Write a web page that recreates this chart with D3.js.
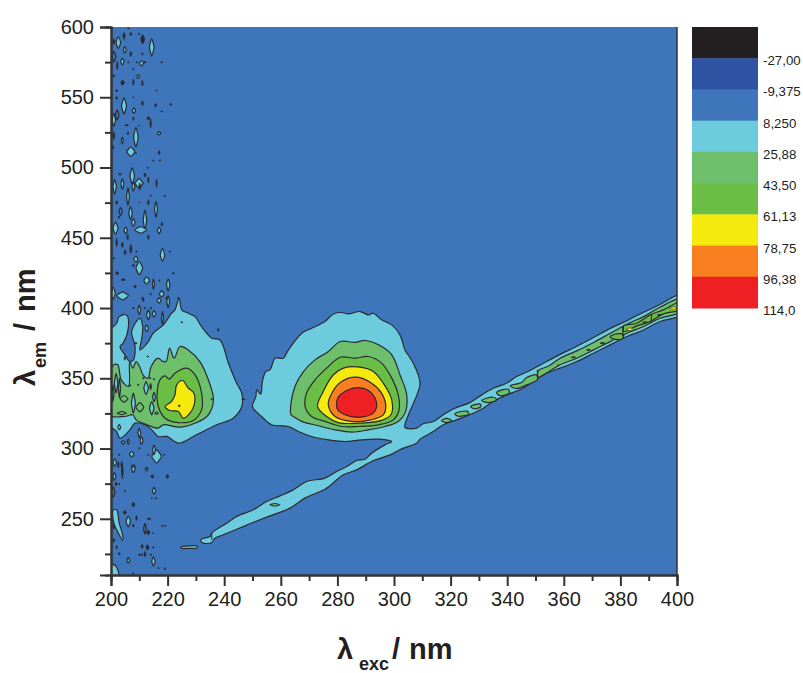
<!DOCTYPE html>
<html>
<head>
<meta charset="utf-8">
<script src="https://cdn.jsdelivr.net/npm/d3@7"></script>
<style>
  html, body { margin: 0; padding: 0; background: #fff; }
  svg { display: block; }
  text { font-family: "Liberation Sans", Arial, sans-serif; fill: #231f20; }
</style>
</head>
<body>
<script>
"use strict";
// every outline below is [lambda exc, lambda em] in nm
const xTicks = [200, 220, 240, 260, 280, 300, 320, 340, 360, 380, 400]
const xMinorTicks = [210, 230, 250, 270, 290, 310, 330, 350, 370, 390]
const yTicks = [250, 300, 350, 400, 450, 500, 550, 600]
const yMinorTicks = [225, 275, 325, 375, 425, 475, 525, 575]

const legendLabels = ["-27,00", "-9,375", "8,250", "25,88", "43,50", "61,13", "78,75", "96,38", "114,0"]
const legendColors = ["#231f20", "#2e53a3", "#3f75ba", "#6ccbdc", "#6dbf6b", "#6abd45", "#f5ea0e", "#f97e20", "#ee2024"]

// light blue: right peak and the scatter diagonal, one connected contour
const cyanMain = [[250,329.9],[251.2,337],[251.5,341.8],[252.9,338.7],[253.5,347.7],[254.7,354.8],[256.2,356],[258,364.3],[260.9,364.3],[262.7,370.2],[267.4,382.1],[270.9,385.6],[275.6,390.4],[278.6,395.8],[281.5,396.8],[283.9,395.8],[288,397.5],[291,395.1],[292.7,396.3],[295.6,391.6],[299.2,388],[302.1,380.9],[303.9,370.2],[306.8,360.8],[309.2,346.5],[307.4,334.7],[305.1,324],[303.9,315],[308,314.5],[310.3,317.6],[313.9,319.2],[317.4,324],[321.5,328.7],[326.8,332.7],[331,338.2],[335.1,342.9],[339.8,346.5],[343.3,351.2],[348,355.5],[352.8,360.7],[358.7,367],[364.6,372.8],[370.5,379],[376.4,385.5],[382.3,391],[388.2,397],[394,402.5],[402,410],[402,396],[394,390.4],[388.2,384.4],[382.3,379.7],[376.4,373.8],[370.5,367.8],[364.6,361.9],[358.7,357.2],[353.9,353.6],[349.2,347.7],[344.5,341.8],[339.8,338.2],[335.1,333.5],[331.5,328.7],[326.8,324],[322.1,320.4],[317.4,316.9],[313.9,312.1],[309.2,306.7],[308,303.8],[303.3,300.3],[298.6,295.5],[292.1,290.8],[286.8,284.8],[282.1,281.3],[276.2,271.8],[268.5,264.7],[263.2,257.6],[255,251.2],[247.3,245],[239.7,238.6],[236.7,236.2],[235.6,233.1],[232.6,232.7],[231.7,233.9],[232,235.5],[235,237.4],[235.6,239.8],[240.9,246.9],[244.4,251.6],[250.3,256.4],[255,262.3],[259.7,266.3],[264.4,270.6],[269.1,276.5],[275.6,278.9],[279.7,283.6],[283.3,287.2],[286.8,291.5],[289.7,292.4],[292.1,296.7],[296.8,302.6],[299.2,305],[294.5,306.7],[288.6,306.2],[282.7,305],[276.8,306.2],[270.9,308.6],[266.2,312.1],[262.7,315.7],[256.8,316.9],[253.2,322.8]]
const cyanLeft = [[199,382.1],[202,389.2],[202.9,393.9],[205.5,395.1],[206.1,385.6],[204.3,375],[203.2,372.6],[204.9,366.7],[206.7,361.9],[207.9,363.1],[208.5,372.6],[207.3,383.3],[210.2,392.7],[211.2,386.8],[210.8,377.3],[210.2,370.2],[213.2,376.1],[214.9,382.1],[218.5,388],[221.4,396.3],[222.6,398.7],[224.1,407],[225,398.7],[227.3,396.3],[229.7,393.9],[232,386.8],[235.6,378.5],[238.5,377.3],[241.5,360.7],[244.4,346.5],[246.2,339.4],[246.2,329.9],[243.2,321.6],[237.3,316.9],[231.4,311],[229.1,308.6],[223.8,303.8],[219.7,308.6],[216.7,308.6],[214.4,313.3],[212,316.9],[208.5,318.1],[206.7,313.3],[203.2,307.4],[202,312.1],[199,318.1]]
const cyanStreak = [[200.8,256.4],[202,256.4],[202.9,246.9],[204.1,238.6],[204.1,234.6],[202.6,239.8],[201,246.9]]
const cyanCorner = [[199.5,218],[201.8,216.1],[202.6,209],[199.5,209]]
const cyanFoot = [[224.7,229.9],[227,230.6],[230.3,230.6],[230.5,229.3],[228,229],[225,229]]

// mid green, right peak
const greenRight = [[263.6,332.3],[265,344.2],[268,354.8],[272.1,363.1],[276.8,369],[281,376.2],[286.2,375.5],[289.8,376.9],[294.5,373.8],[299.2,366.7],[302.1,352.5],[304.5,338.2],[303.9,325.2],[301.5,319.3],[296.8,315.7],[291,313.3],[285.1,311.7],[279.2,313.3],[273.3,316.2],[267.4,319.3],[264.4,322.8],[263.6,324]]
const greenLeft = [[199,346.5],[201,359.6],[202.4,359.6],[203,354.8],[203.6,348.9],[206.2,344.2],[206.6,361.9],[207.7,357.2],[208.9,361.9],[210.1,358.4],[211.3,352.5],[213,350],[214.2,358.4],[216.6,364.3],[218.3,362],[219.5,362],[220.7,371.4],[222.3,364.3],[224.4,372.6],[227.3,370.2],[231.4,361.9],[234.4,348.9],[236.2,334.7],[234.4,324],[230.3,318.5],[224.4,315.2],[218.5,316.9],[216.6,314.5],[211.9,317.6],[208.9,320.4],[207.7,324],[204.8,322.8],[199,324]]
// mid green patches strung along the diagonal
const greenPatches = [
  [[316.8,320],[318.6,321.4],[320.4,320],[318.6,318.5]],
  [[321.5,324.7],[325.7,326.6],[326.5,324.7],[322.7,323]],
  [[327.1,329.9],[330.4,331.6],[330.7,329.9],[328.6,328.2]],
  [[331,334.2],[335.1,336.5],[336.3,334.6],[333.3,332.7]],
  [[336.3,339.9],[340.4,342.2],[340.7,339.4],[337.4,337.7]],
  [[341,344.6],[345.1,347],[346.9,350.5],[350.4,352.4],[350.6,348.9],[346.9,345.3],[343.3,342.7]],
  [[351,355.5],[354.5,358.5],[358.7,364.3],[364.6,369.5],[370.5,375.5],[376.4,382],[382.3,388.5],[388.2,393.9],[394,400.6],[402,407],[402,398],[394,392.7],[388.2,386.8],[382.3,382.1],[376.4,376.1],[370.5,370.2],[364.6,364.3],[358.7,359.6],[354.5,354.5],[351,350.8]]
]

// darker green
const deepRight = [[268.6,329.9],[269.1,339.4],[272.1,348.9],[276.2,357.2],[281,365],[286.2,364.3],[291,365.5],[295.6,360.8],[299.2,350.1],[301.5,338.2],[301.8,327.6],[299.8,320.4],[294.5,316.9],[287.4,315.7],[281.5,315.7],[275.6,319.3],[270.9,322.8]]
const deepLeft = [[216.4,341.8],[217.3,348.9],[219.1,351.7],[220.6,349.4],[222.6,353.6],[226.7,357.2],[229.7,352.4],[232,339.4],[232,327.5],[229.1,320],[223.8,318.5],[219.1,321.6],[216.7,329.9]]
const deepDiagonal = [[381.1,387.3],[385.8,389.2],[390.5,395.1],[395.2,398.7],[402,405],[402,399.5],[395.2,395.8],[390.5,390.4],[385.8,387.3],[381.1,383.3]]
const deepPatch = [[376.4,379.7],[378.7,381.6],[381.1,380.9],[380.5,378],[377.5,378]]
// short contour stubs where two bands touch
const contourStubs = [
  [[235.6,239.8],[235.6,235]],
  [[350.6,356],[350.8,350.5]],
  [[381.1,387.3],[380.8,380.1]],
  [[391.1,395.1],[390.7,389.2]]
]

const yellowRight = [[273,329.9],[275,340.6],[278.6,352.5],[282.1,357.2],[288,357.9],[292.7,354.8],[296.2,346.5],[299.2,334.7],[298.9,324],[295.6,320],[288.6,318.1],[280.3,318.5],[276.2,322.8]]
const yellowLeft = [[219.1,329.9],[221.4,333.5],[222.6,338.2],[223.2,345.3],[225.3,348.4],[227.3,343],[229.3,339.4],[229.4,331.1],[227.9,325.2],[225.5,321.6],[223.8,326.4],[220.8,327.1]]
const orangeRight = [[276.8,331.1],[278,339.4],[281.5,347.7],[286.8,350.8],[292.1,346.5],[295.6,339.4],[297.1,329.9],[296.2,324],[291,320],[285.1,319.3],[279.2,322.8]]
const redRight = [[279.7,331.1],[280.3,336.6],[283.9,341.8],[287.4,343.4],[291,341.3],[293.3,335.9],[293.9,329.9],[292.7,325.2],[288,322.3],[282.7,324],[280.1,327.6]]

// small closed contours: [exc, em, half width nm, half height nm]
const cyanIslets = [[214.4,585.6,.8,6.2],[202.6,588.9,.8,4.3],[204.6,543.8,.9,5.7],[208.8,521.5,.8,7],[207,511.3,1.4,3.3],[207.5,494,.8,5.7],[209.9,488.8,1.4,3.3],[201.3,486.4,.6,5.2],[204,488.3,.5,3.8],[206,479.3,.5,6.2],[207.9,486.5,.5,3.3],[206.9,467.5,.6,4.7],[215.9,470.3,.5,5.7],[212,462.7,.6,7],[210.5,455.6,2.1,2.4],[201.6,456.8,.9,4.3],[207.9,460.8,.6,2.8],[205.2,455.2,.6,2.4],[217,455.2,.6,2.4],[218.2,437.8,.8,4.7],[210,428.4,1.2,4.7],[208.8,434.8,.7,2.4],[212.6,419.6,1,2.6],[220.2,416.5,.6,4.3],[215,417,.35,3.8],[217.9,410,.8,2.4],[200.8,410.6,.7,4.3],[204.1,408.7,2.1,2.8],[201,533.9,.6,4.7],[208.1,540.5,.6,1.9],[204.9,583.7,.5,2.4],[210.8,574.2,.7,1.9],[204,575.4,.6,2.4],[209.6,564.7,.5,1.4],[217,524.4,.6,1.2],[204,519.2,.35,2.4],[213.2,395.1,.6,3.6],[210,398.7,.5,3.3],[217,405.3,.7,1.9],[215.2,395.8,.6,2.4],[218.2,392.7,.35,4.7],[220.2,404.6,.5,4.3],[212.6,385.6,.6,2.4],[212.4,343,.8,4.7],[214.4,328.7,.8,4.7],[215.2,336.6,.5,3.3],[207.9,332.3,.7,7.1],[201.8,346.5,.6,7],[203,343,.35,7],[200.7,339.4,.35,6],[202.9,315.2,.5,1.9],[210,311,.5,3.3],[210.8,305.7,.5,2.8],[206.1,305,.35,1.9],[204.3,304.3,.6,1.2],[207.3,296,.8,1.9],[216.1,294.4,1.7,4.7],[215.2,299.1,.5,3.6],[201.3,290.1,.6,2.8],[207.9,287.2,.7,1.4],[207.9,285.3,.6,2.4],[212.6,285.3,.5,1.2],[201.2,280.1,.5,2.8],[215.2,269.9,.6,2.4],[206.1,248.1,.8,3.8],[206.1,220.4,.5,1.9],[215,219.6,.6,3.3]]
const greenIslets = [[210.2,329.4,1.4,3.3],[204.6,335.4,1.4,2.4],[203.8,325.2,1.6,1.2],[216.1,325.2,.6,.9],[257.9,260,1.8,.9]]
const yellowIslets = [[383.4,384.9,1.5,.9],[398.8,399.9,1.6,.9]]
const blueIslets = [[203.4,468.7,.6,2.8],[202.2,537.4,.6,3.6],[201,579,.7,3.8],[200.8,269,.6,3.8],[212,242.9,.5,3.8]]
const darkSpecks = [[206.1,599.1,.3,.5],[207,595,.35,1.2],[204.6,593.6,.35,2.4],[209.9,595,.3,.5],[211.2,591.2,.7,3.3],[201,589.6,.35,1.9],[207,580.8,.35,1.7],[211.1,580.8,.35,.7],[202.2,572.5,.25,2.8],[206.1,574.9,.3,.5],[209.1,574.9,.3,.5],[212,574.9,.35,.7],[217.9,574.9,.3,.5],[207.9,570.1,.3,.5],[201,565.2,.5,.7],[204.1,560.4,.6,1.9],[207.9,560.7,.25,2.1],[211.1,560,.25,1.9],[202,554.7,.4,.7],[216.1,554.7,.25,.5],[202,549.5,.4,.9],[207.9,550,.25,.4],[211.1,545.7,.3,1.7],[215.8,544.3,.35,1.2],[221.1,544.8,.25,1],[217.9,539.8,.3,.5],[207.9,534.8,.25,1.2],[213.2,535.1,.5,1.2],[214,531.5,.25,3.3],[205.5,530.1,.6,.5],[209.9,529.8,.2,.4],[201,522.7,.35,2.8],[206,524.4,.25,1],[200.8,514.4,.25,1.2],[208.8,510.2,.25,.4],[217,510.6,.35,1.4],[215,505,.3,.4],[217.3,505,.3,.4],[213,499.7,.25,.5],[203.2,495.2,.5,.5],[212,494.7,.35,1.4],[213.2,491.2,.25,2.1],[216.1,488.8,.2,2.8],[210.2,486.5,.35,2.4],[214,480,.3,.5],[219,479.8,.3,.5],[202,475.1,.35,1.2],[210,475.1,.2,.4],[213.2,475.1,.25,1.9],[202.8,464.6,.4,.7],[218,459.7,.35,1.2],[205.9,450.4,.25,1.9],[213.2,450.4,.25,1.7],[202,446.6,.25,2.8],[204,445,.35,1.9],[207,442.1,.35,3.3],[205,439.7,.35,1.7],[209,440.2,.25,.5],[220.8,440.2,.25,.5],[201,435.5,.25,.7],[207.9,430.3,.4,.9],[222,424.8,.35,.7],[202.2,424.8,.5,1.2],[204.3,420.1,.7,.7],[208.5,415.3,.5,.9],[217.1,419.6,.25,.5],[214,409.9,.35,.4],[211.1,407,.25,.9],[219.7,407,.35,.9],[223.8,407,.25,.9],[207.9,399.9,.35,.7],[211.4,405.8,.25,1.2],[212,399.9,.3,.5],[214.1,399.9,.3,.5],[225,389.9,.3,.5],[237.9,384.4,.3,1],[208.8,375,.4,.7],[213,365.5,.3,.5],[204.9,364.3,.25,1.4],[246.8,335.1,.6,.4],[235.6,335.1,.3,.5],[224.1,330.4,.4,.7],[206.7,344.9,.4,.5],[209.6,345.3,.3,.5],[213.8,350.1,.3,.5],[215.2,349.4,.3,.5],[211.4,350.1,.3,.5],[214,344.1,.35,2.4],[202.9,295.5,.3,.5],[210,300.3,.3,.5],[213.2,295.5,.3,.5],[218.8,295.5,.3,.5],[202.6,288.4,.25,2.4],[203.8,288.4,.25,2.4],[212.6,286.1,.3,.5],[214.6,280.1,.5,1.2],[219.9,280.1,.5,1.4],[204,283.7,.3,5.2],[201.8,274.7,.35,1.4],[202.9,274.7,.25,.7],[204.9,269.9,.25,.5],[214.4,264.7,.25,.3],[215.9,264.7,.25,.6],[207.9,260,.5,1.7],[204.9,254.5,.5,1.4],[213.4,250,.7,.5],[209,250.5,.25,1.7],[207.9,245,.35,1],[201,244.6,.25,1.9],[213.2,240.3,.5,1.7],[218.1,245,.25,.6],[219.1,245,.25,.6],[214.9,239.8,.2,.4],[201,234.6,.25,1.4],[202,229.8,.25,1.2],[211,230.3,.35,1.4],[212.9,229.6,.5,1.9],[214.9,229.6,.25,.6],[202.9,225.1,.35,.9],[210,224.4,.3,.7],[210.8,224.4,.3,.7],[212,224.9,.35,1.9],[214.1,224.4,.3,.7],[216.7,214.9,.35,.25],[219.1,214.4,.25,.9],[207.9,211,.25,.7],[363.4,365,.8,.4],[368.7,370.2,.7,.4],[373.7,375,.9,.5],[388.7,389.9,.8,.4],[393.7,395.1,.7,.4],[357.9,359.5,.15,.3],[276.2,271.8,.15,.3]]

const measurements = { width: 803, height: 673, left: 111, right: 677, top: 27, bottom: 575 }
const colorOf = {
  blue: legendColors[2], cyan: legendColors[3], green: legendColors[4],
  deep: legendColors[5], yellow: legendColors[6], orange: legendColors[7], red: legendColors[8]
}

;(function(){
  let svg = d3.select("body").append("svg")
    .attr("width", measurements.width)
    .attr("height", measurements.height)

  let scaleX = d3.scaleLinear().domain([200, 400]).range([measurements.left, measurements.right])
  let scaleY = d3.scaleLinear().domain([210, 600]).range([measurements.bottom, measurements.top])

  svg.append("defs").append("clipPath").attr("id", "plot-clip")
    .append("rect")
      .attr("x", scaleX(200)).attr("y", scaleY(600))
      .attr("width", scaleX(400) - scaleX(200)).attr("height", scaleY(210) - scaleY(600))

  let plot = svg.append("g").attr("clip-path", "url(#plot-clip)")

  plot.append("rect")
    .attr("x", scaleX(200)).attr("y", scaleY(600))
    .attr("width", scaleX(400) - scaleX(200)).attr("height", scaleY(210) - scaleY(600))
    .attr("fill", colorOf.blue)

  const outline = d3.line()
    .x(d => scaleX(d[0]))
    .y(d => scaleY(d[1]))
    .curve(d3.curveCatmullRomClosed.alpha(0.5))

  // islets are pointy lenses, a cardinal through four points gives that
  const lens = d3.line()
    .x(d => scaleX(d[0]))
    .y(d => scaleY(d[1]))
    .curve(d3.curveCardinalClosed.tension(0.45))

  const stub = d3.line()
    .x(d => scaleX(d[0]))
    .y(d => scaleY(d[1]))

  function drawContours(shapes, fill) {
    plot.selectAll(null)
      .data(shapes)
      .enter()
      .append("path")
        .attr("d", outline)
        .attr("fill", fill)
        .attr("stroke", "#2b2b30")
        .attr("stroke-width", 1.2)
        .attr("stroke-linejoin", "round")
  }

  function drawIslets(islets, fill, strokeWidth) {
    plot.selectAll(null)
      .data(islets)
      .enter()
      .append("path")
        .attr("d", d => lens([[d[0], d[1] + d[3]], [d[0] + d[2], d[1]], [d[0], d[1] - d[3]], [d[0] - d[2], d[1]]]))
        .attr("fill", fill)
        .attr("stroke", "#2b2b30")
        .attr("stroke-width", strokeWidth)
  }

  drawContours([cyanMain, cyanLeft, cyanStreak, cyanCorner, cyanFoot], colorOf.cyan)
  drawContours([greenRight, greenLeft].concat(greenPatches), colorOf.green)
  drawContours([deepRight, deepLeft, deepDiagonal, deepPatch], colorOf.deep)
  drawContours([yellowRight, yellowLeft], colorOf.yellow)
  drawContours([orangeRight], colorOf.orange)
  drawContours([redRight], colorOf.red)

  plot.selectAll(null)
    .data(contourStubs)
    .enter()
    .append("path")
      .attr("d", stub)
      .attr("fill", "none")
      .attr("stroke", "#2b2b30")
      .attr("stroke-width", 1.1)

  drawIslets(cyanIslets, colorOf.cyan, 1.2)
  drawIslets(greenIslets, colorOf.green, 1.1)
  drawIslets(yellowIslets, colorOf.yellow, 0.5)
  drawIslets(blueIslets, colorOf.blue, 1.2)
  drawIslets(darkSpecks, "#2b2b30", 0.8)

  drawAxes(scaleX, scaleY)
  drawTitles()
  makeLegend()

  function drawAxes(scaleX, scaleY) {
    let bottom = svg.append("g").attr("transform", `translate(0, ${measurements.bottom})`)
    bottom.call(d3.axisBottom(scaleX).tickValues(xTicks).tickSize(11).tickPadding(6).tickFormat(d3.format("d")))
    let bottomMinor = svg.append("g").attr("transform", `translate(0, ${measurements.bottom})`)
    bottomMinor.call(d3.axisBottom(scaleX).tickValues(xMinorTicks).tickSize(6).tickFormat(""))

    let left = svg.append("g").attr("transform", `translate(${measurements.left}, 0)`)
    left.call(d3.axisLeft(scaleY).tickValues(yTicks).tickSize(11).tickPadding(6).tickFormat(d3.format("d")))
    let leftMinor = svg.append("g").attr("transform", `translate(${measurements.left}, 0)`)
    leftMinor.call(d3.axisLeft(scaleY).tickValues(yMinorTicks).tickSize(6).tickFormat(""))

    svg.selectAll(".domain").attr("stroke", "#333").attr("stroke-width", 2)
    svg.selectAll(".tick line").attr("stroke", "#333").attr("stroke-width", 2)
    svg.selectAll(".tick text")
      .attr("fill", "#231f20")
      .style("font-family", '"Liberation Sans", Arial, sans-serif')
      .style("font-size", "20px")

    // right edge of the frame
    svg.append("line")
      .attr("x1", scaleX(400)).attr("x2", scaleX(400))
      .attr("y1", scaleY(600)).attr("y2", scaleY(210))
      .attr("stroke", "#333").attr("stroke-width", 1.5)
  }

  function drawTitles() {
    let xTitle = svg.append("text")
      .attr("transform", "translate(337, 659)")
      .attr("font-weight", "bold").attr("font-size", 29)
    xTitle.append("tspan").attr("x", 0).text("λ")
    xTitle.append("tspan").attr("x", 22).attr("y", 11).attr("font-size", 18).text("exc")
    xTitle.append("tspan").attr("x", 55).attr("y", 0).text("/")
    xTitle.append("tspan").attr("x", 72).attr("y", 0).text("nm")

    let yTitle = svg.append("text")
      .attr("transform", "translate(35, 386) rotate(-90)")
      .attr("font-weight", "bold").attr("font-size", 29)
    yTitle.append("tspan").attr("x", 0).text("λ")
    yTitle.append("tspan").attr("x", 18).attr("y", 11).attr("font-size", 18).text("em")
    yTitle.append("tspan").attr("x", 55).attr("y", 0).text("/")
    yTitle.append("tspan").attr("x", 74).attr("y", 0).text("nm")
  }

  function makeLegend() {
    // black band on top, red at the bottom
    let legendY = d3.scaleBand().domain(legendColors).range([27, 308])
    let legend = svg.append("g")
    legend.selectAll("rect")
      .data(legendColors)
      .enter()
      .append("rect")
        .attr("x", 692)
        .attr("y", d => legendY(d))
        .attr("width", 66)
        .attr("height", legendY.bandwidth() + 0.5)
        .attr("fill", d => d)
    legend.selectAll("text")
      .data(legendLabels)
      .enter()
      .append("text")
        .attr("x", 763)
        .attr("y", (d, i) => legendY(legendColors[i]) + legendY.bandwidth() + 7)
        .attr("font-size", 13.3)
        .text(d => d)
  }
})()
</script>
</body>
</html>
